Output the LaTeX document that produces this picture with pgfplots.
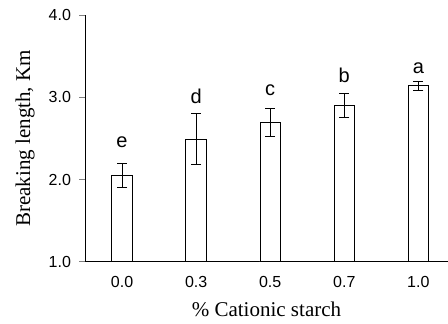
\documentclass[border=0pt]{standalone}
\usepackage{pgfplots}
\pgfplotsset{compat=1.18}
\usepackage{fontspec}
\setmainfont{Liberation Serif}
\newfontfamily\arial{Liberation Sans}
\begin{document}
\begin{tikzpicture}[x=1pt,y=1pt]
\useasboundingbox (0,0) rectangle (448,324);
\begin{axis}[
  at={(85pt,62.3pt)}, anchor=south west,
  scale only axis, width=363pt, height=246.4pt,
  xmin=-0.5, xmax=4.4, ymin=1, ymax=4,
  axis x line*=bottom, axis y line*=left,
  axis line style={line width=0.9pt},
  xtick={0,1,2,3,4}, xticklabels={0.0,0.3,0.5,0.7,1.0},
  ytick={1,2,3,4}, yticklabels={1.0,2.0,3.0,4.0},
  major x tick style={draw=none},
  y tick style={line width=0.9pt},
  tick align=outside, major tick length=5.5pt,
  ticklabel style={font=\arial\fontsize{16}{18}\selectfont},
  xticklabel style={yshift=-6pt},
  yticklabel style={xshift=-5pt},
  xlabel={\% Cationic starch},
  ylabel={Breaking length, Km},
  label style={font=\fontsize{21}{24}\selectfont},
  xlabel style={at={(axis description cs:0.5,-0.193)}, anchor=center},
  ylabel style={at={(axis description cs:-0.165,0.5)}, anchor=center, rotate=0},
  clip=false,
]
\addplot[ybar, bar width=20.5pt, draw=black, fill=white, line width=0.9pt,
  error bars/.cd, y dir=both, y explicit,
  error bar style={line width=0.9pt},
  error mark options={rotate=90, mark size=5pt, line width=0.9pt}]
  coordinates {
  (0,2.05) +- (0,0.145)
  (1,2.49) +- (0,0.31)
  (2,2.70) +- (0,0.17)
  (3,2.90) +- (0,0.145)
  (4,3.14) +- (0,0.06)
  };
\begin{scope}[font=\arial\fontsize{20}{22}\selectfont]
\node at (axis cs:0,2.46) {e};
\node at (axis cs:1,3.01) {d};
\node at (axis cs:2,3.09) {c};
\node at (axis cs:3,3.27) {b};
\node at (axis cs:4,3.36) {a};
\end{scope}
\end{axis}
\end{tikzpicture}
\end{document}
